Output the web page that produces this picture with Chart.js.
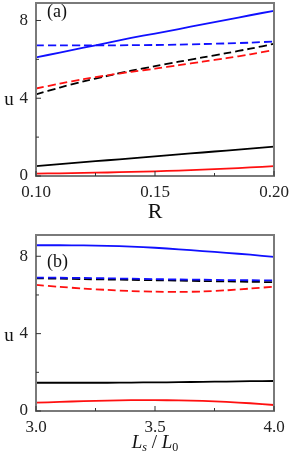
<!DOCTYPE html>
<html>
<head>
<meta charset="utf-8">
<script src="https://cdn.jsdelivr.net/npm/chart.js@4"></script>
<style>
  html, body { margin: 0; padding: 0; background: #fff; }
  .panel { position: absolute; left: 0; width: 291px; height: 229px; }
</style>
</head>
<body>
<div class="panel" style="top:0"><canvas id="chartA" width="291" height="229"></canvas></div>
<div class="panel" style="top:229px"><canvas id="chartB" width="291" height="229"></canvas></div>
<script>
// panel (a): u vs R
const rValues = [0.10, 0.11, 0.12, 0.13, 0.14, 0.15, 0.16, 0.17, 0.18, 0.19, 0.20];
const blueSolidA = [6.10, 6.35, 6.60, 6.85, 7.10, 7.33, 7.56, 7.80, 8.03, 8.27, 8.50];
const blueDashA  = [6.72, 6.72, 6.72, 6.72, 6.73, 6.74, 6.76, 6.79, 6.82, 6.86, 6.92];
const blackDashA = [4.20, 4.55, 4.87, 5.15, 5.42, 5.65, 5.88, 6.10, 6.32, 6.55, 6.80];
const redDashA   = [4.50, 4.75, 4.98, 5.18, 5.36, 5.52, 5.70, 5.88, 6.06, 6.26, 6.48];
const blackSolidA = [0.51, 0.61, 0.71, 0.81, 0.91, 1.01, 1.11, 1.21, 1.31, 1.41, 1.51];
const redSolidA  = [0.12, 0.14, 0.16, 0.18, 0.21, 0.24, 0.28, 0.33, 0.38, 0.44, 0.51];

// panel (b): u vs Ls/L0
const lsValues = [3.0, 3.1, 3.2, 3.3, 3.4, 3.5, 3.6, 3.7, 3.8, 3.9, 4.0];
const blueSolidB = [8.57, 8.57, 8.56, 8.54, 8.50, 8.44, 8.36, 8.27, 8.18, 8.08, 7.97];
const blueDashB  = [6.90, 6.89, 6.88, 6.86, 6.84, 6.82, 6.80, 6.79, 6.77, 6.76, 6.75];
const blackDashB = [6.86, 6.84, 6.82, 6.80, 6.78, 6.76, 6.74, 6.72, 6.70, 6.68, 6.66];
const redDashB   = [6.52, 6.42, 6.33, 6.26, 6.20, 6.17, 6.16, 6.18, 6.24, 6.33, 6.43];
const blackSolidB = [1.46, 1.46, 1.46, 1.46, 1.47, 1.48, 1.49, 1.51, 1.52, 1.54, 1.55];
const redSolidB  = [0.43, 0.47, 0.51, 0.54, 0.56, 0.56, 0.55, 0.52, 0.47, 0.40, 0.31];

const xTicksA = [0.10, 0.15, 0.20];
const xMinorA = [0.125, 0.175];
const xTicksB = [3.0, 3.5, 4.0];
const xMinorB = [3.25, 3.75];
const yTicks = [0, 4, 8];
const yMinor = [2, 6];

const BLUE = '#1010ff', RED = '#ff1010', BLACK = '#000';
const SERIF = '"Liberation Serif", "DejaVu Serif", serif';

function pts(xs, ys) {
  return xs.map((x, i) => ({ x: x, y: ys[i] }));
}

function ds(xs, ys, color, dashed, order) {
  return {
    data: pts(xs, ys),
    borderColor: color,
    borderWidth: 1.8,
    borderDash: dashed ? [8, 4] : [],
    pointRadius: 0,
    tension: 0.3,
    fill: false,
    order: order
  };
}

// frame, inward tick marks and free text
const decor = {
  id: 'decor',
  afterDraw(chart, args, opts) {
    const ctx = chart.ctx;
    const a = chart.chartArea;
    const xs = chart.scales.x, ys = chart.scales.y;
    ctx.save();
    ctx.strokeStyle = '#7a7a7a';
    ctx.lineWidth = 2;
    ctx.strokeRect(a.left, a.top, a.right - a.left, a.bottom - a.top);
    ctx.strokeStyle = '#333';
    ctx.lineWidth = 1;
    ctx.beginPath();
    opts.xMajor.forEach(v => { const p = xs.getPixelForValue(v); ctx.moveTo(p, a.bottom); ctx.lineTo(p, a.bottom - 5); });
    opts.xMinor.forEach(v => { const p = xs.getPixelForValue(v); ctx.moveTo(p, a.bottom); ctx.lineTo(p, a.bottom - 3); });
    yTicks.forEach(v => { const p = ys.getPixelForValue(v); ctx.moveTo(a.left, p); ctx.lineTo(a.left + 5, p); });
    yMinor.forEach(v => { const p = ys.getPixelForValue(v); ctx.moveTo(a.left, p); ctx.lineTo(a.left + 3, p); });
    ctx.stroke();

    ctx.fillStyle = '#111';
    ctx.textBaseline = 'middle';
    ctx.textAlign = 'center';
    ctx.font = '19px ' + SERIF;
    ctx.fillText('u', 9, ys.getPixelForValue(4) + 2);
    ctx.textAlign = 'left';
    ctx.font = '18px ' + SERIF;
    ctx.fillText(opts.tag, a.left + 11, opts.tagY);

    const cx = (a.left + a.right) / 2;
    if (opts.xTitle === 'R') {
      ctx.textAlign = 'center';
      ctx.font = '22px ' + SERIF;
      ctx.fillText('R', cx, a.bottom + 36);
    } else {
      // L_s / L_0
      const y = a.bottom + 32;
      const big = 'italic 19px ' + SERIF, small = 'italic 12px ' + SERIF, mid = '19px ' + SERIF;
      const parts = [['L', big, 0], ['s', small, 5], [' / ', mid, 0], ['L', big, 0], ['0', '12px ' + SERIF, 5]];
      let w = 0;
      parts.forEach(p => { ctx.font = p[1]; w += ctx.measureText(p[0]).width; });
      let x = cx - w / 2;
      ctx.textAlign = 'left';
      parts.forEach(p => { ctx.font = p[1]; ctx.fillText(p[0], x, y + p[2]); x += ctx.measureText(p[0]).width; });
    }
    ctx.restore();
  }
};

function makeChart(id, xs, sets, xMin, xMax, xMajor, xMinor, yMax, tickFmt, pad, xHeight, tag, tagY, xTitle) {
  return new Chart(document.getElementById(id), {
    type: 'line',
    data: { datasets: sets },
    options: {
      responsive: false,
      animation: false,
      layout: { padding: pad },
      plugins: {
        legend: { display: false },
        tooltip: { enabled: false },
        decor: { xMajor: xMajor, xMinor: xMinor, tag: tag, tagY: tagY, xTitle: xTitle }
      },
      scales: {
        x: {
          type: 'linear', min: xMin, max: xMax,
          grid: { display: false, drawTicks: false },
          border: { display: false },
          afterBuildTicks: s => { s.ticks = xMajor.map(v => ({ value: v })); },
          afterFit: s => { s.height = xHeight; s.paddingLeft = 0; s.paddingRight = 0; },
          ticks: { color: '#222', padding: 6, maxRotation: 0, font: { family: SERIF, size: 17 }, callback: tickFmt }
        },
        y: {
          min: 0, max: yMax,
          grid: { display: false, drawTicks: false },
          border: { display: false },
          afterBuildTicks: s => { s.ticks = yTicks.map(v => ({ value: v })); },
          afterFit: s => { s.width = 36; s.paddingTop = 0; s.paddingBottom = 0; },
          ticks: { color: '#222', padding: 8, font: { family: SERIF, size: 17 } }
        }
      }
    },
    plugins: [decor]
  });
}

makeChart('chartA', rValues, [
  ds(rValues, blueSolidA, BLUE, false, 1),
  ds(rValues, blueDashA, BLUE, true, 2),
  ds(rValues, redDashA, RED, true, 3),
  ds(rValues, blackDashA, BLACK, true, 4),
  ds(rValues, redSolidA, RED, false, 5),
  ds(rValues, blackSolidA, BLACK, false, 6)
], 0.10, 0.20, xTicksA, xMinorA, 8.9, v => v.toFixed(2),
  { left: 0, right: 17, top: 3, bottom: 0 }, 53, '(a)', 12, 'R');

makeChart('chartB', lsValues, [
  ds(lsValues, blueSolidB, BLUE, false, 1),
  ds(lsValues, blueDashB, BLUE, true, 2),
  ds(lsValues, blackDashB, BLACK, true, 3),
  ds(lsValues, redDashB, RED, true, 4),
  ds(lsValues, redSolidB, RED, false, 5),
  ds(lsValues, blackSolidB, BLACK, false, 6)
], 3.0, 4.0, xTicksB, xMinorB, 9.1, v => v.toFixed(1),
  { left: 0, right: 17, top: 6, bottom: 0 }, 47, '(b)', 33, 'Ls');
</script>
</body>
</html>
